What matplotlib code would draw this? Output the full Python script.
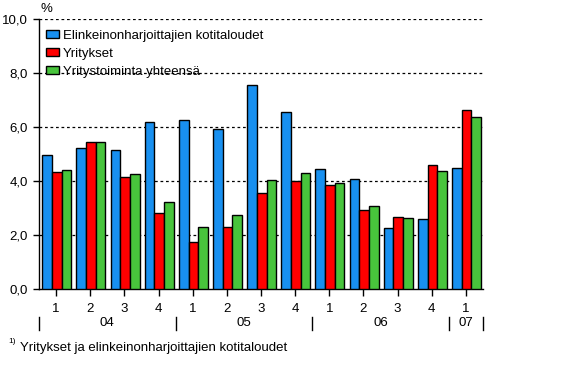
import matplotlib
matplotlib.use("Agg")
import matplotlib.pyplot as plt
import numpy as np

plt.rcParams['font.family'] = ['Liberation Sans', 'DejaVu Sans']

quarters = ["1", "2", "3", "4", "1", "2", "3", "4", "1", "2", "3", "4", "1"]
years = ["04", "05", "06", "07"]
year_spans = [(0, 4), (4, 8), (8, 12), (12, 13)]
series_names = ["Elinkeinonharjoittajien kotitaloudet", "Yritykset", "Yritystoiminta yhteensä"]
elinkeino = [4.96, 5.22, 5.15, 6.19, 6.26, 5.93, 7.57, 6.56, 4.44, 4.07, 2.26, 2.59, 4.48]
yritykset = [4.33, 5.44, 4.15, 2.81, 1.74, 2.30, 3.56, 4.00, 3.85, 2.93, 2.67, 4.59, 6.63]
yhteensa = [4.41, 5.44, 4.26, 3.22, 2.30, 2.74, 4.04, 4.30, 3.93, 3.07, 2.63, 4.37, 6.37]
yticks = [0, 2, 4, 6, 8, 10]
footnote = "Yritykset ja elinkeinonharjoittajien kotitaloudet"

colors = ["#1890f0", "#ff0000", "#48c43c"]
fs = 9.5

fig = plt.figure(figsize=(5.62, 3.84), dpi=100)
ax = fig.add_axes([39/562, 1-289.3/384, (483-39)/562, (289.3-19)/384])

x = np.arange(len(quarters))
w = 0.283
for i, (vals, c, name) in enumerate(zip([elinkeino, yritykset, yhteensa], colors, series_names)):
    ax.bar(x + (i-1)*w + 0.02, vals, width=w, color=c, edgecolor="black", linewidth=1.0,
           label=name, zorder=3)

ax.set_xlim(-0.5, len(quarters)-0.5)
ax.set_ylim(0, 10)
ax.set_yticks(yticks)
ax.set_yticklabels([f"{v:.1f}".replace(".", ",") for v in yticks], fontsize=fs)
for v in yticks[1:]:
    ax.axhline(v, color="black", linestyle=(0, (2.2, 2.2)), linewidth=0.9, zorder=1)

ax.set_xticks(x)
ax.set_xticklabels(quarters, fontsize=fs)
ax.tick_params(axis="x", length=5, width=1, pad=5)
ax.tick_params(axis="y", length=4.3, width=1, pad=3.5)
for s in ["top", "right"]:
    ax.spines[s].set_visible(False)
for s in ["left", "bottom"]:
    ax.spines[s].set_linewidth(1.0)

trans = ax.get_xaxis_transform()
for (a, b), yr in zip(year_spans, years):
    ax.text((a + b)/2 - 0.5, -0.1265, yr, transform=trans, ha="center", va="center", fontsize=fs)
for b in [-0.5, 3.5, 7.5, 11.5, 12.5]:
    ax.plot([b, b], [-0.102, -0.150], color="black", linewidth=1.0, transform=trans, clip_on=False)

fig.text(40/562, 1-9/384, "%", fontsize=fs, ha="left", va="center")

leg = ax.legend(loc="upper left", bbox_to_anchor=(-0.003, 0.99), frameon=False, fontsize=fs,
                handlelength=1.0, handleheight=0.65, handletextpad=0.3, labelspacing=0.45,
                borderaxespad=0.2)

fig.text(8/562, 1-341.5/384, "1)", fontsize=6, ha="left", va="center")
fig.text(20/562, 1-347.5/384, footnote, fontsize=fs, ha="left", va="center")

fig.savefig("out.png", dpi=100)
